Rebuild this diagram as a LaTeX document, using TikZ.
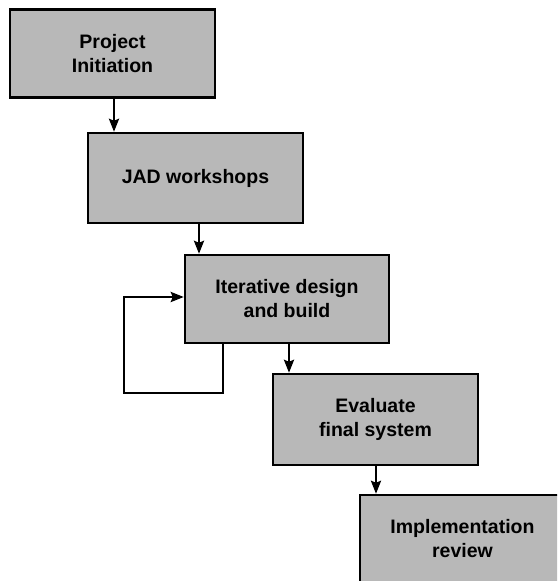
\documentclass[tikz,border=0pt]{standalone}
\usepackage{fontspec}
\setmainfont{Liberation Sans}
\usetikzlibrary{arrows.meta}
\definecolor{boxfill}{gray}{0.72}
\tikzset{
  stage/.style={draw=black, line width=2.4pt, fill=boxfill, rectangle,
    minimum width=205pt, minimum height=88pt, inner sep=0pt, align=center,
    font=\fontsize{19.5}{24}\selectfont\bfseries},
  flow/.style={line width=2.4pt, -{Stealth[length=13pt,width=10pt,inset=2pt]}}
}
\begin{document}
\begin{tikzpicture}[x=1pt, y=-1pt]
  \clip (0,0) rectangle (557,581);
  \fill[white] (0,0) rectangle (557,581);

  \node[stage] (b1) at (112.5,53.5) {Project\\Initiation};
  \node[stage, minimum width=215pt, minimum height=90pt] (b2) at (195.5,178) {JAD workshops};
  \node[stage, minimum width=204pt] (b3) at (287,299) {Iterative design\\and build};
  \node[stage, minimum height=91pt] (b4) at (375.5,419.5) {Evaluate\\final system};
  \node[stage] (b5) at (462.5,539) {Implementation\\review};

  % stage-to-stage arrows
  \draw[flow] ([xshift=1.5pt]b1.south) -- ([xshift=1.5pt]b1.south |- b2.north);
  \draw[flow] ([xshift=3.5pt]b2.south) -- ([xshift=3.5pt]b2.south |- b3.north);
  \draw[flow] ([xshift=2pt]b3.south) -- ([xshift=2pt]b3.south |- b4.north);
  \draw[flow] ([xshift=0.5pt]b4.south) -- ([xshift=0.5pt]b4.south |- b5.north);

  % iteration loop back into the design stage
  \coordinate (loopA) at ([xshift=-64pt]b3.south);
  \coordinate (loopB) at ([yshift=-49pt]loopA);
  \coordinate (loopC) at ([xshift=-99pt]loopB);
  \draw[flow, line join=miter] (loopA) -- (loopB) -- (loopC) |- ([yshift=2pt]b3.west);
\end{tikzpicture}
\end{document}
